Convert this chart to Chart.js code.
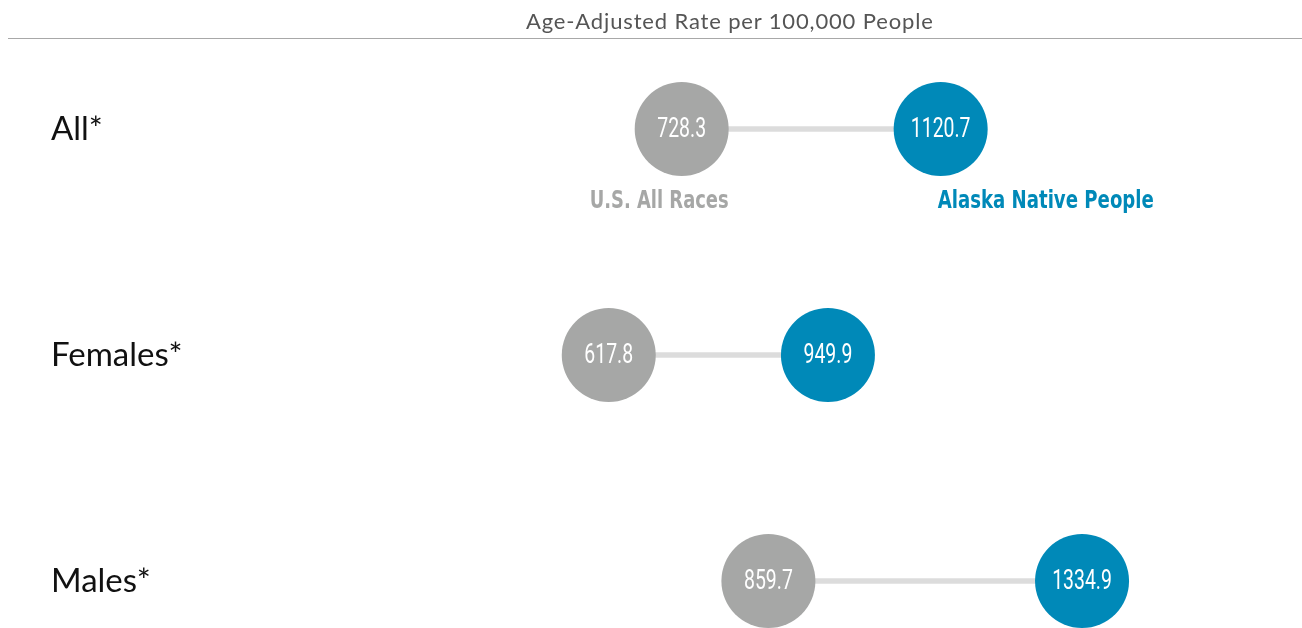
<!DOCTYPE html>
<html>
<head>
<meta charset="utf-8">
<script src="https://cdn.jsdelivr.net/npm/chart.js@4"></script>
<style>
  body { margin: 0; background: #fff; }
  #wrap { position: absolute; left: 0; top: 0; width: 1302px; height: 628px; }
  #head {
    position: absolute; left: 8px; top: 0; width: 1294px; height: 38px;
    border-bottom: 1.5px solid #a8a8a8;
  }
  #head span {
    position: absolute; left: 518px; top: 7px;
    font: 22px Lato, sans-serif; color: #555; letter-spacing: 0.85px;
  }
</style>
</head>
<body>
<div id="wrap"><canvas id="dumbbell"></canvas></div>
<div id="head"><span>Age-Adjusted Rate per 100,000 People</span></div>
<script>
// Данные
const rows = ['All*', 'Females*', 'Males*'];
const usAllRaces = [728.3, 617.8, 859.7];
const alaskaNative = [1120.7, 949.9, 1334.9];
const seriesNames = ['U.S. All Races', 'Alaska Native People'];

const GRAY = '#a6a7a6';
const BLUE = '#0089b8';
const R = 47;

// Узкий текст: сжимаем по горизонтали
function narrowText(ctx, text, x, y, sx) {
    ctx.save();
    ctx.translate(x, y);
    ctx.scale(sx, 1);
    ctx.fillText(text, 0, 0);
    ctx.restore();
}

// Подписи внутри кругов и названия серий под первой строкой
const labelsPlugin = {
    id: 'dumbbellLabels',
    afterDatasetsDraw(chart) {
        const ctx = chart.ctx;
        ctx.save();
        ctx.fillStyle = '#fff';
        ctx.textAlign = 'center';
        ctx.textBaseline = 'middle';
        ctx.font = '27px Roboto, sans-serif';
        [0, 1].forEach(di => {
            const meta = chart.getDatasetMeta(di);
            const vals = chart.data.datasets[di].data;
            meta.data.forEach((pt, i) => {
                narrowText(ctx, vals[i].x.toFixed(1), pt.x, pt.y + 1, 0.72);
            });
        });

        const us = chart.getDatasetMeta(0).data[0];
        const an = chart.getDatasetMeta(1).data[0];
        ctx.font = 'bold 24px "DejaVu Sans Condensed", sans-serif';
        ctx.textBaseline = 'alphabetic';
        ctx.fillStyle = GRAY;
        ctx.textAlign = 'right';
        narrowText(ctx, seriesNames[0], us.x + R, us.y + 79, 0.83);
        ctx.fillStyle = BLUE;
        ctx.textAlign = 'left';
        narrowText(ctx, seriesNames[1], an.x - 3, an.y + 79, 0.84);
        ctx.restore();
    }
};

function initChart() {
    const ctx = document.getElementById('dumbbell');

    new Chart(ctx, {
        type: 'bar',
        data: {
            labels: rows,
            datasets: [
                {
                    type: 'line',
                    label: seriesNames[0],
                    data: rows.map((r, i) => ({ x: usAllRaces[i], y: r })),
                    showLine: false,
                    pointRadius: R,
                    pointHoverRadius: R,
                    pointBackgroundColor: GRAY,
                    pointBorderWidth: 0,
                    clip: false,
                    order: 0
                },
                {
                    type: 'line',
                    label: seriesNames[1],
                    data: rows.map((r, i) => ({ x: alaskaNative[i], y: r })),
                    showLine: false,
                    pointRadius: R,
                    pointHoverRadius: R,
                    pointBackgroundColor: BLUE,
                    pointBorderWidth: 0,
                    clip: false,
                    order: 0
                },
                {
                    label: 'gap',
                    data: rows.map((r, i) => [usAllRaces[i], alaskaNative[i]]),
                    backgroundColor: '#dcdcdc',
                    barThickness: 5,
                    borderSkipped: false,
                    clip: false,
                    order: 1
                }
            ]
        },
        options: {
            indexAxis: 'y',
            responsive: true,
            maintainAspectRatio: false,
            animation: false,
            layout: { padding: { left: 51, right: 111, top: 129, bottom: 44 } },
            plugins: {
                legend: { display: false },
                tooltip: { enabled: false },
                title: { display: false }
            },
            scales: {
                x: { display: false, min: 0, max: 1500 },
                y: {
                    type: 'category',
                    offset: false,
                    grid: { display: false },
                    border: { display: false },
                    ticks: {
                        crossAlign: 'far',
                        color: '#111',
                        padding: 0,
                        font: { family: 'Lato', size: 33 }
                    },
                    afterFit: (scale) => { scale.width = 150; }
                }
            }
        },
        plugins: [labelsPlugin]
    });
}

document.addEventListener('DOMContentLoaded', initChart);
</script>
</body>
</html>
